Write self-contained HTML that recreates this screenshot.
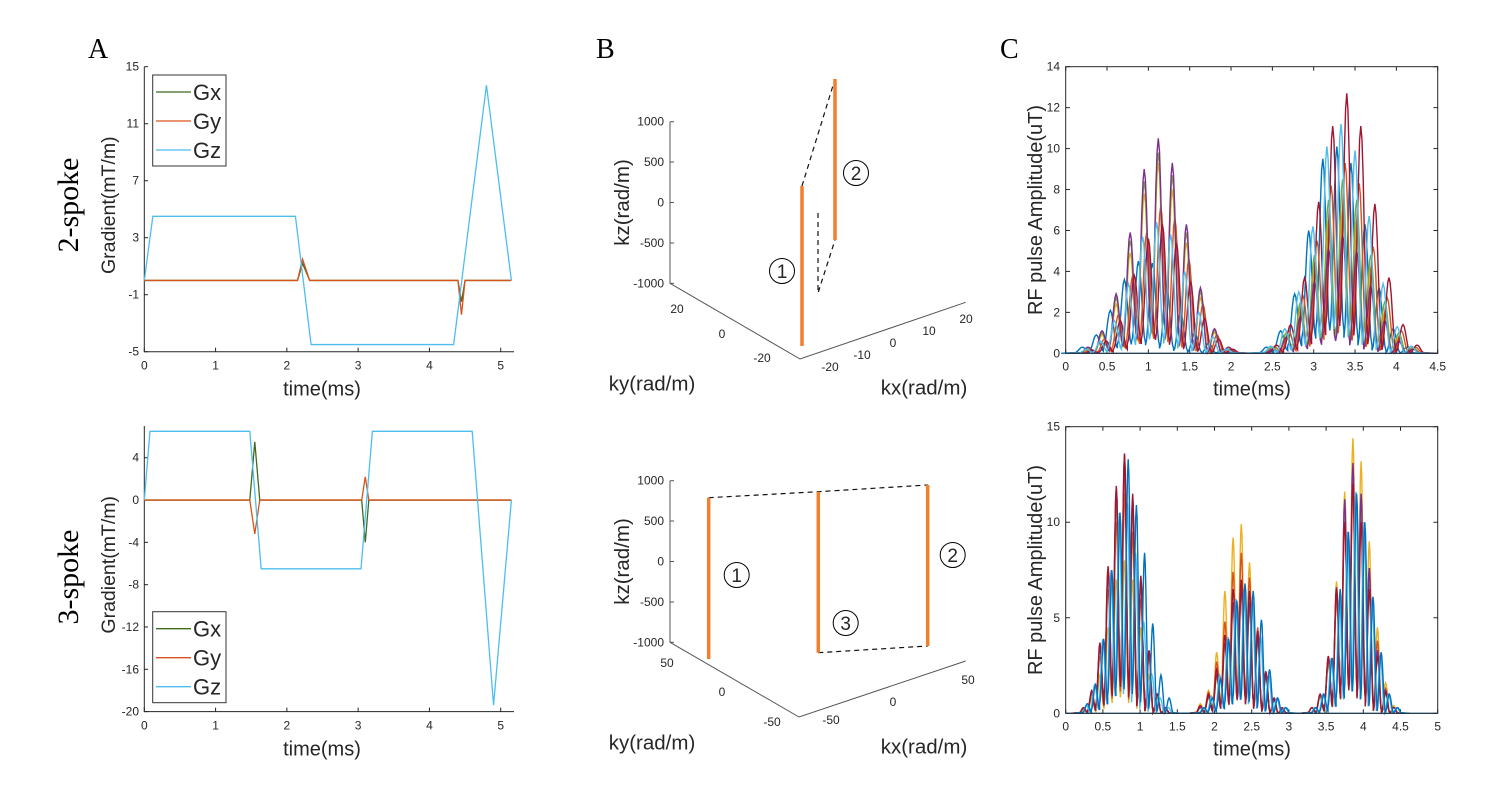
<!DOCTYPE html>
<html><head><meta charset="utf-8"><style>
body{margin:0;background:#fff}
svg text{font-family:"Liberation Sans",sans-serif;fill:#262626}
.serif{font-family:"Liberation Serif",serif;fill:#000}
</style></head><body>
<svg id="s" width="1494" height="797" viewBox="0 0 1494 797" xmlns="http://www.w3.org/2000/svg">
<text class="serif" x="88" y="58" font-size="28">A</text>
<text class="serif" x="596" y="58" font-size="28">B</text>
<text class="serif" x="1000" y="58" font-size="28">C</text>
<text class="serif" transform="translate(78,205) rotate(-90)" text-anchor="middle" font-size="30">2-spoke</text>
<text class="serif" transform="translate(78,577) rotate(-90)" text-anchor="middle" font-size="30">3-spoke</text>
<g id="root"></g>
</svg>
<script>
// ---- Panel A data ----
const gTopTx=[0,2.15,2.22,2.32,4.4,4.45,4.5,5.15];
const gTopGx=[0,0,1.2,0,0,-1.5,0,0];
const gTopGy=[0,0,1.5,0,0,-2.4,0,0];
const gTopTz=[0,0.12,2.12,2.34,4.34,4.8,5.15];
const gTopGz=[0,4.5,4.5,-4.5,-4.5,13.7,0];
const gTopYTicks=[15,11,7,3,-1,-5];
const gBotTx=[0,1.48,1.55,1.62,3.05,3.1,3.15,5.15];
const gBotGx=[0,0,5.5,0,0,-4,0,0];
const gBotGy=[0,0,-3.2,0,0,2.2,0,0];
const gBotTz=[0,0.08,1.48,1.64,3.04,3.2,4.6,4.9,5.15];
const gBotGz=[0,6.5,6.5,-6.5,-6.5,6.5,6.5,-19.4,0];
const gBotYTicks=[4,0,-4,-8,-12,-16,-20];
const gXTicks=[0,1,2,3,4,5];
// ---- Panel C data ----
const rfTopTimes=[0.27,0.44,0.61,0.78,0.95,1.12,1.29,1.46,1.63,1.80,1.97,2.50,2.67,2.84,3.01,3.18,3.35,3.52,3.69,3.86,4.03,4.20];
const rfTopPurple=[0.3,1.1,2.9,5.9,9.0,10.5,9.3,6.3,3.2,1.2,0.3,0.2,0.8,1.8,3.5,5.1,5.8,5.0,3.3,1.6,0.6,0.2];
const rfTopGreen=[0.25,1.0,2.7,5.5,8.4,9.8,8.7,5.9,3.0,1.1,0.3,0.3,1.0,2.5,4.8,7.5,8.5,7.5,4.8,2.5,1.0,0.3];
const rfTopYellow=[0.2,0.9,2.4,4.9,7.8,9.3,8.0,5.4,2.7,1.0,0.25,0.3,1.0,2.3,4.5,6.5,7.0,6.5,4.2,2.0,0.8,0.2];
const rfTopOrange=[0.2,0.7,1.9,3.8,5.9,7.2,6.6,4.6,2.4,0.9,0.2,0.3,1.1,2.8,5.5,8.2,9.3,8.3,5.2,2.7,1.1,0.3];
const rfTopRed=[0.15,0.6,1.6,3.8,5.6,6.3,5.4,3.5,1.7,0.7,0.2,0.4,1.4,3.7,7.4,11.1,12.7,11.1,7.3,3.7,1.4,0.4];
const rfTopLBlue=[0.2,0.6,1.6,3.4,5.7,6.4,5.8,4.0,2.0,0.8,0.2,0.35,1.2,3.0,6.2,10.1,11.2,9.9,6.7,3.4,1.3,0.35];
const rfTopBlue=[0.3,0.9,2.1,3.6,4.5,4.4,3.3,2.0,1.0,0.5,0.2,0.3,1.1,2.9,6.0,9.5,10.1,9.3,6.3,3.2,1.2,0.3];
const rfTopOffsets=[0,0,0,0.03,0.05,-0.02,-0.07];
const rfTopYTicks=[0,2,4,6,8,10,12,14];
const rfTopXTicks=[0,0.5,1,1.5,2,2.5,3,3.5,4,4.5];
const rfBotTimes=[0.24,0.35,0.46,0.57,0.68,0.79,0.90,1.01,1.12,1.23,1.34,1.81,1.92,2.03,2.14,2.25,2.36,2.47,2.58,2.69,2.80,2.91,3.31,3.42,3.53,3.64,3.75,3.86,3.97,4.08,4.19,4.30,4.41];
const rfBotRed=[0.3,1.2,3.7,7.7,11.9,13.6,11.5,7.2,3.3,1.0,0.3,0.4,1.0,2.3,4.1,6.5,7.0,6.4,4.3,2.2,0.8,0.3,0.3,1.0,3.0,6.5,10.0,12.0,10.0,6.5,3.0,1.1,0.3];
const rfBotYellow=[0.2,0.8,2.0,4.5,7.0,8.0,7.0,4.5,2.0,0.8,0.2,0.5,1.2,3.2,6.4,9.2,9.9,7.9,4.4,2.0,0.7,0.2,0.3,1.0,3.0,6.9,11.6,14.4,13.2,9.0,4.5,1.6,0.4];
const rfBotOrange=[0.25,1.0,3.0,6.5,10.0,11.5,9.5,6.0,3.0,1.0,0.3,0.4,1.1,2.7,4.8,7.4,8.4,7.1,4.5,2.1,0.8,0.2,0.3,0.9,2.8,6.0,10.5,12.5,11.0,7.5,3.8,1.3,0.3];
const rfBotPurple=[0.3,1.1,3.5,7.5,11.8,13.5,11.3,7.0,3.2,1.0,0.3,0.3,0.9,2.0,3.7,5.8,6.5,5.8,4.0,2.0,0.7,0.2,0.3,1.0,2.9,6.6,11.2,13.1,11.5,7.6,3.3,1.2,0.3];
const rfBotGreen=[0.3,1.0,3.4,7.3,11.0,13.0,11.0,7.0,3.2,1.0,0.3,0.3,0.8,1.9,3.6,5.7,6.4,5.6,3.8,1.9,0.7,0.2,0.3,0.9,2.6,6.3,10.5,12.0,10.5,7.0,3.1,1.0,0.3];
const rfBotLBlue=[0.4,1.5,3.9,7.5,10.5,11.0,8.4,4.8,2.0,0.8,0.3,0.3,0.9,2.0,4.0,6.0,6.5,5.9,4.0,2.0,0.8,0.3,0.3,1.0,2.9,6.0,9.5,11.6,10.0,6.0,3.0,1.0,0.3];
const rfBotBlue=[0.5,1.5,3.9,7.5,10.5,13.3,10.9,8.4,4.7,2.0,0.8,0.3,0.8,1.8,3.9,5.9,6.8,6.4,4.9,2.3,0.8,0.3,0.3,1.0,2.9,6.5,9.5,11.5,10.0,6.1,3.2,1.0,0.3];
const rfBotOffsets=[0,0,0,0,0,0.04,0.05];
const rfBotYTicks=[0,5,10,15];
const rfBotXTicks=[0,0.5,1,1.5,2,2.5,3,3.5,4,4.5,5];

const NS="http://www.w3.org/2000/svg";
const root=document.getElementById('root');
function el(tag,attrs,parent,txt){const e=document.createElementNS(NS,tag);for(const k in attrs)e.setAttribute(k,attrs[k]);if(txt!==undefined)e.textContent=txt;(parent||root).appendChild(e);return e;}
function lin(d0,d1,r0,r1){return v=>r0+(v-d0)*(r1-r0)/(d1-d0);}

// ---------- Panel A ----------
function gradPanel(y0,y1,ymin,ymax,yTicks,series,legendY,name){
  const X=lin(0,5,144.3,500.7), Y=lin(ymin,ymax,y1,y0);
  const g=el('g',{});
  
  
  const ax=el('path',{d:`M144.3 ${y0} V${y1} H514`,stroke:'#262626','stroke-width':1,fill:'none'},g);
  
  
  yTicks.forEach(v=>{const y=Y(v);el('line',{x1:144.3,x2:148,y1:y,y2:y,stroke:'#262626'},g);
    const t=el('text',{x:139,y:y+4,'font-size':12,'text-anchor':'end'},g,String(v));
    
    });
  gXTicks.forEach(v=>{const x=X(v);el('line',{x1:x,x2:x,y1:y1,y2:y1-4,stroke:'#262626'},g);
    const t=el('text',{x:x,y:y1+18,'font-size':12,'text-anchor':'middle'},g,String(v));
    
    });
  series.forEach(s=>{const p=el('polyline',{points:s.t.map((t,i)=>X(t)+','+Y(s.v[i])).join(' '),fill:'none',stroke:s.c,'stroke-width':1.3},g);
    
    });
  const yl=el('text',{transform:`translate(115,${(y0+y1)/2-4}) rotate(-90)`,'font-size':19.5,'text-anchor':'middle'},g,'Gradient(mT/m)');
  
  
  const xl=el('text',{x:322,y:y1+44,'font-size':20,'text-anchor':'middle'},g,'time(ms)');
  
  
  const lg=el('g',{},g);
  
  
  el('rect',{x:152.7,y:legendY,width:73.3,height:91,fill:'#fff',stroke:'#333','stroke-width':1},lg);
  series.forEach((s,i)=>{const yy=legendY+17+i*29;
    el('line',{x1:156,x2:191,y1:yy,y2:yy,stroke:s.c,'stroke-width':1.3},lg);
    const t=el('text',{x:193,y:yy+8,'font-size':22,fill:'#000'},lg,s.n);
    
    });
}
gradPanel(66.7,351.7,-5,15,gTopYTicks,[
 {n:'Gx',t:gTopTx,v:gTopGx,c:'#3d6b1f'},{n:'Gy',t:gTopTx,v:gTopGy,c:'#D95319'},{n:'Gz',t:gTopTz,v:gTopGz,c:'#4DBEEE'}],75,'gradient-plot-2-spoke');
gradPanel(426,711.6,-20,7,gBotYTicks,[
 {n:'Gx',t:gBotTx,v:gBotGx,c:'#3d6b1f'},{n:'Gy',t:gBotTx,v:gBotGy,c:'#D95319'},{n:'Gz',t:gBotTz,v:gBotGz,c:'#4DBEEE'}],611.7,'gradient-plot-3-spoke');

// ---------- Panel B ----------
function kPanel(o,name){
  const g=el('g',{});
  
  
  el('path',{d:`M670 ${o.top} V${o.bot} L${o.c[0]} ${o.c[1]} L965.7 ${o.kxEnd}`,fill:'none',stroke:'#555','stroke-width':1},g);
  o.kzTicks.forEach(([v,y])=>{el('line',{x1:670,x2:674,y1:y,y2:y,stroke:'#555'},g);
    const t=el('text',{x:664,y:y+4,'font-size':12,'text-anchor':'end'},g,v);
    
    });
  o.kyTicks.forEach(([v,x,y])=>{const t=el('text',{x:x,y:y,'font-size':12,'text-anchor':'middle'},g,v);
    
    });
  o.kxTicks.forEach(([v,x,y])=>{const t=el('text',{x:x,y:y,'font-size':12,'text-anchor':'middle'},g,v);
    
    });
  o.dash.forEach(d=>el('polyline',{points:d,fill:'none',stroke:'#111','stroke-width':1.2,'stroke-dasharray':'5,4'},g));
  o.spokes.forEach(([x,ya,yb],i)=>{const l=el('line',{x1:x,x2:x,y1:ya,y2:yb,stroke:'#F07F2E','stroke-width':3.5},g);
    
    });
  o.labels.forEach(([s,x,y])=>{el('circle',{cx:x,cy:y,r:12.5,fill:'none',stroke:'#000','stroke-width':1},g);
    const t=el('text',{x:x,y:y+7,'font-size':19,'text-anchor':'middle',fill:'#000'},g,s);
    
    });
  const a=el('text',{transform:`translate(629,${(o.top+o.bot)/2}) rotate(-90)`,'font-size':20.5,'text-anchor':'middle'},g,'kz(rad/m)');
  
  
  const b=el('text',{x:652,y:o.bot+107,'font-size':20.5,'text-anchor':'middle'},g,'ky(rad/m)');
  
  
  const c=el('text',{x:924,y:o.bot+111,'font-size':20.5,'text-anchor':'middle'},g,'kx(rad/m)');
  
  
}
kPanel({top:121.7,bot:283.3,c:[800,359],kxEnd:302.3,
 kzTicks:[['1000',121.7],['500',162],['0',202.5],['-500',243],['-1000',283.3]],
 kyTicks:[['20',677,313],['0',722,338],['-20',762,362]],
 kxTicks:[['-20',830,371],['-10',862,359],['0',893,347],['10',929,335],['20',966,323]],
 dash:['802,186 835,79','818,213 818,293 835,240'],
 spokes:[[802,186,346],[835,79,240]],
 labels:[['1',782,271],['2',856,173]]},'k-space-2-spoke');
kPanel({top:480.7,bot:642.3,c:[799,717],kxEnd:661,
 kzTicks:[['1000',480.7],['500',521],['0',561.5],['-500',602],['-1000',642.3]],
 kyTicks:[['50',667,667],['0',722,696],['-50',772,726]],
 kxTicks:[['-50',831,724],['0',893,706],['50',968,684]],
 dash:['708.7,497.7 818.3,491.7 927.7,485','818.3,652.7 927.7,646'],
 spokes:[[708.7,497.7,659],[818.3,491.7,652.7],[927.7,485,646]],
 labels:[['1',736.7,575],['2',952.7,555],['3',845.7,623]]},'k-space-3-spoke');

// ---------- Panel C ----------
const colors=['#7E2F8E','#77AC30','#EDB120','#D95319','#A2142F','#4DBEEE','#0072BD'];
function rfPanel(y0,y1,xmax,ymax,times,seriesArr,offsets,yTicks,xTicks,name,order){
  const X=lin(0,xmax,1065.7,1437.7), Y=lin(0,ymax,y1,y0);
  const g=el('g',{});
  
  
  yTicks.forEach(v=>{const y=Y(v);el('line',{x1:1065.7,x2:1070,y1:y,y2:y,stroke:'#262626'},g);el('line',{x1:1433.4,x2:1437.7,y1:y,y2:y,stroke:'#262626'},g);
    const t=el('text',{x:1060,y:y+4,'font-size':12,'text-anchor':'end'},g,String(v));
    
    });
  xTicks.forEach(v=>{const x=X(v);el('line',{x1:x,x2:x,y1:y1,y2:y1-4,stroke:'#262626'},g);el('line',{x1:x,x2:x,y1:y0,y2:y0+4,stroke:'#262626'},g);
    const t=el('text',{x:x,y:y1+17,'font-size':12,'text-anchor':'middle'},g,String(v));
    
    });
  order.forEach(si=>{
    const vals=seriesArr[si], off=offsets[si];
    let pts=[];
    for(let i=0;i<times.length;i++){
      const h=(i+1<times.length&&times[i+1]-times[i]<0.3)?times[i+1]-times[i]:(times[i]-times[i-1]);
      const tc=times[i]+off;
      const nb=Math.min(vals[i], (i+1<times.length&&times[i+1]-times[i]<0.3)?vals[i+1]:0.2);
      if(i===0||times[i]-times[i-1]>0.3) pts.push([X(tc-h*1.5),Y(0)]);
      for(let k=0;k<=12;k++){const dt=-h/2+h*k/12;const c=Math.cos(Math.PI*dt/h);
        const floor=0.12*nb;pts.push([X(tc+dt),Y(floor+(vals[i]-floor)*c*c)]);}
      if(i===times.length-1||times[i+1]-times[i]>0.3) pts.push([X(tc+h*1.5),Y(0)]);
    }
    const p=el('polyline',{points:pts.map(q=>q[0].toFixed(1)+','+q[1].toFixed(1)).join(' '),fill:'none',stroke:colors[si],'stroke-width':1.4},g);
    
    
  });
  el('line',{x1:1065.7,x2:1437.7,y1:y1,y2:y1,stroke:'#0072BD','stroke-width':1.2},g);
  el('rect',{x:1065.7,y:y0,width:372,height:y1-y0,fill:'none',stroke:'#262626','stroke-width':1},g);
  const yl=el('text',{transform:`translate(1042,${(y0+y1)/2}) rotate(-90)`,'font-size':20,'text-anchor':'middle'},g,'RF pulse Amplitude(uT)');
  
  
  const xl=el('text',{x:1252,y:y1+42,'font-size':20,'text-anchor':'middle'},g,'time(ms)');
  
  
}
rfPanel(66.7,353.3,4.5,14,rfTopTimes,[rfTopPurple,rfTopGreen,rfTopYellow,rfTopOrange,rfTopRed,rfTopLBlue,rfTopBlue],rfTopOffsets,rfTopYTicks,rfTopXTicks,'rf-plot-2-spoke',[6,2,3,1,0,4,5]);
rfPanel(426.7,713.3,5,15,rfBotTimes,[rfBotPurple,rfBotGreen,rfBotYellow,rfBotOrange,rfBotRed,rfBotLBlue,rfBotBlue],rfBotOffsets,rfBotYTicks,rfBotXTicks,'rf-plot-3-spoke',[2,3,1,0,4,5,6]);
</script>
</body></html>
